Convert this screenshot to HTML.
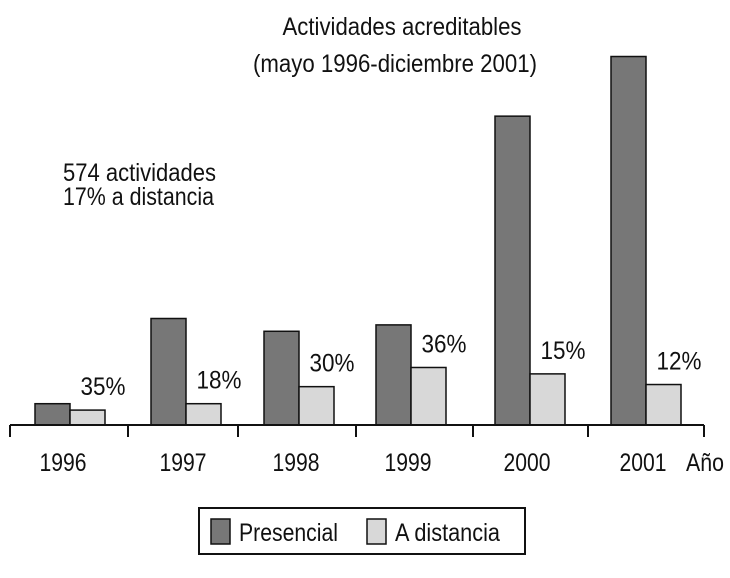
<!DOCTYPE html>
<html><head><meta charset="utf-8"><style>
body{margin:0;background:#fff}
svg text{font-family:"Liberation Sans Narrow","Liberation Sans",sans-serif;fill:#111}
</style></head><body>
<svg width="730" height="573" viewBox="0 0 730 573">
<text x="402" y="35" font-size="25" text-anchor="middle" textLength="239" lengthAdjust="spacingAndGlyphs">Actividades acreditables</text>
<text x="395" y="72" font-size="25" text-anchor="middle" textLength="284" lengthAdjust="spacingAndGlyphs">(mayo 1996-diciembre 2001)</text>
<text x="63" y="181" font-size="25" textLength="153" lengthAdjust="spacingAndGlyphs">574 actividades</text>
<text x="63" y="205" font-size="25" textLength="151" lengthAdjust="spacingAndGlyphs">17% a distancia</text>
<g id="bars"></g>
<g id="axis"></g>
<g>
<rect x="199" y="508" width="326" height="46" fill="#fff" stroke="#111" stroke-width="2"/>
<rect x="211" y="519" width="19" height="25" fill="#777" stroke="#111" stroke-width="1.5"/>
<text x="239" y="541" font-size="25" textLength="99" lengthAdjust="spacingAndGlyphs">Presencial</text>
<rect x="367" y="519" width="19" height="25" fill="#d8d8d8" stroke="#111" stroke-width="1.5"/>
<text x="395" y="541" font-size="25" textLength="105" lengthAdjust="spacingAndGlyphs">A distancia</text>
</g>
</svg>
<script>
const years=["1996","1997","1998","1999","2000","2001"];
const presencial=[10,50,44,47,145,173];
const distancia=[7,10,18,27,24,19];
const pctLabels=["35%","18%","30%","36%","15%","12%"];
const NS="http://www.w3.org/2000/svg";
const base=425,k=2.13,bw=35;
const starts=[35,151,264,376,495,611];
const tickX=[10,128,238,356,473,588,704];
function y(v){return base-v*k;}
const gb=document.getElementById('bars');
function mk(t,a){const e=document.createElementNS(NS,t);for(const n in a)e.setAttribute(n,a[n]);return e;}
years.forEach((yr,i)=>{
 const x=starts[i];
 const p=mk('rect',{x:x,y:y(presencial[i]),width:bw,height:presencial[i]*k,fill:'#777',stroke:'#111','stroke-width':1.5});
 
 
 gb.appendChild(p);
 const d=mk('rect',{x:x+bw,y:y(distancia[i]),width:bw,height:distancia[i]*k,fill:'#d8d8d8',stroke:'#111','stroke-width':1.5});
 
 
 gb.appendChild(d);
 const t=mk('text',{x:x+bw+33,y:y(distancia[i])-15,'font-size':25,'text-anchor':'middle',textLength:45,lengthAdjust:'spacingAndGlyphs'});
 t.textContent=pctLabels[i];
 
 
 gb.appendChild(t);
 const l=mk('text',{x:x+bw-7+(i==0?0:4),y:471,'font-size':25,'text-anchor':'middle',textLength:47,lengthAdjust:'spacingAndGlyphs'});
 l.textContent=yr;
 
 
 gb.appendChild(l);
});
const ga=document.getElementById('axis');
const ax=mk('line',{x1:10,y1:base,x2:704,y2:base,stroke:'#111','stroke-width':2});


ga.appendChild(ax);
tickX.forEach((tx,i)=>{
 const t=mk('line',{x1:tx,y1:base,x2:tx,y2:437,stroke:'#111','stroke-width':2});
 
 
 ga.appendChild(t);
});
const at=mk('text',{x:686,y:471,'font-size':25,textLength:38,lengthAdjust:'spacingAndGlyphs'});
at.textContent="Año";


ga.appendChild(at);
</script>
</body></html>
